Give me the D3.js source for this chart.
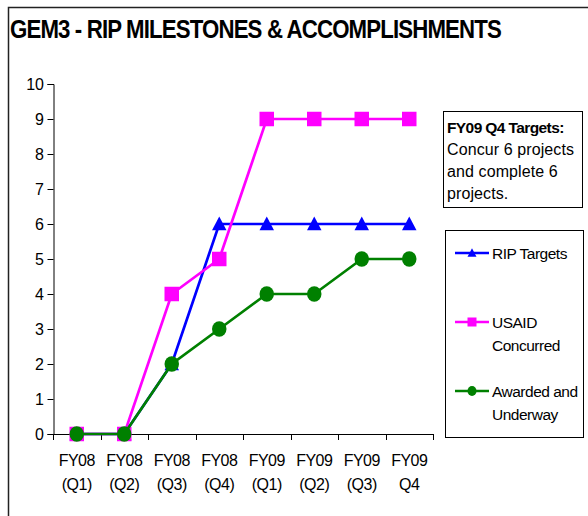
<!DOCTYPE html>
<html lang="en">
<head>
<meta charset="UTF-8">
<title>GEM3 - RIP Milestones & Accomplishments</title>
<script src="https://cdn.jsdelivr.net/npm/d3@7.8.5/dist/d3.min.js"></script>
<style>
  * { margin: 0; padding: 0; box-sizing: border-box; }
  body { background: #fff; width: 588px; height: 516px; overflow: hidden; }
  svg text { font-family: 'Liberation Sans', Arial, sans-serif; fill: #000; }
</style>
</head>
<body>
<svg id="chart" width="588" height="516"></svg>
<script>
// quarters on the x axis (two text lines each)
const quarterTop = ["FY08", "FY08", "FY08", "FY08", "FY09", "FY09", "FY09", "FY09"];
const quarterBottom = ["(Q1)", "(Q2)", "(Q3)", "(Q4)", "(Q1)", "(Q2)", "(Q3)", "Q4"];

// series values
const ripTargets = [0, 0, 2, 6, 6, 6, 6, 6];
const usaidConcurred = [0, 0, 4, 5, 9, 9, 9, 9];
const awardedUnderway = [0, 0, 2, 3, 4, 4, 5, 5];

const yTicks = [0, 1, 2, 3, 4, 5, 6, 7, 8, 9, 10];

const noteLines = ["Concur 6 projects", "and complete 6", "projects."];

const series = [
  { name: ["RIP Targets"], values: ripTargets, color: "#0000ff", shape: "triangle" },
  { name: ["USAID", "Concurred"], values: usaidConcurred, color: "#ff00ff", shape: "square" },
  { name: ["Awarded and", "Underway"], values: awardedUnderway, color: "#008000", shape: "circle" }
];

const svg = d3.select("#chart");

// outer frame (runs off the right and bottom of the picture)
svg.append("path")
  .attr("d", "M8.5,520 V7.5 H600")
  .attr("fill", "none")
  .attr("stroke", "#222")
  .attr("stroke-width", 1.5);

// title - condensed horizontally like the original
svg.append("text")
  .attr("transform", "translate(10,38) scale(0.873,1)")
  .style("font-size", "25.5px")
  .style("font-weight", "bold")
  .style("letter-spacing", "-1px")
  .text("GEM3 - RIP MILESTONES & ACCOMPLISHMENTS");

// plot area
const x = d3.scaleBand().domain(d3.range(quarterTop.length)).range([53, 433]);
const y = d3.scaleLinear().domain([0, 10]).range([434, 84]);

// y axis
const yAxis = svg.append("g")
  .attr("transform", "translate(53.5,0)")
  .call(d3.axisLeft(y).tickValues(yTicks).tickSizeOuter(0).tickSize(6).tickPadding(4));
yAxis.select(".domain").attr("stroke", "#000");
yAxis.selectAll("line").attr("stroke", "#000");
yAxis.selectAll("text")
  .style("font-size", "16px")
  .style("letter-spacing", "-0.3px")
  .style("font-family", "'Liberation Sans', Arial, sans-serif");

// x axis line and ticks at band edges
svg.append("line")
  .attr("x1", 53).attr("x2", 433.5)
  .attr("y1", 434.5).attr("y2", 434.5)
  .attr("stroke", "#000");

const edges = d3.range(quarterTop.length + 1).map(i => i === quarterTop.length ? x.range()[1] : x(i));
svg.selectAll(".xtick")
  .data(edges)
  .join("line")
  .attr("class", "xtick")
  .attr("x1", d => Math.round(d) + 0.5).attr("x2", d => Math.round(d) + 0.5)
  .attr("y1", 434).attr("y2", 440)
  .attr("stroke", "#000");

const xLabels = svg.selectAll(".xlab")
  .data(quarterTop)
  .join("text")
  .attr("class", "xlab")
  .attr("text-anchor", "middle")
  .style("font-size", "16px")
  .style("letter-spacing", "-0.5px");
xLabels.append("tspan")
  .attr("x", (d, i) => x(i) + x.bandwidth() / 2)
  .attr("y", 466)
  .text(d => d);
xLabels.append("tspan")
  .attr("x", (d, i) => x(i) + x.bandwidth() / 2)
  .attr("y", 490)
  .text((d, i) => quarterBottom[i]);

// markers
function drawMarker(g, shape, color, size) {
  if (shape === "square") {
    g.append("rect")
      .attr("x", -size / 2).attr("y", -size / 2)
      .attr("width", size).attr("height", size)
      .attr("fill", color);
  } else if (shape === "triangle") {
    const h = size * 0.95;
    g.append("path")
      .attr("d", `M0,${-h * 0.55} L${size / 2},${h * 0.45} L${-size / 2},${h * 0.45} Z`)
      .attr("fill", color);
  } else {
    g.append("ellipse")
      .attr("rx", size / 2).attr("ry", size / 2 + 0.5)
      .attr("fill", color);
  }
}

const line = d3.line()
  .x((d, i) => x(i) + x.bandwidth() / 2)
  .y(d => y(d));

series.forEach(s => {
  const g = svg.append("g");
  g.append("path")
    .attr("d", line(s.values))
    .attr("fill", "none")
    .attr("stroke", s.color)
    .attr("stroke-width", 2.7);
  s.values.forEach((v, i) => {
    const m = g.append("g")
      .attr("transform", `translate(${x(i) + x.bandwidth() / 2},${y(v)})`);
    drawMarker(m, s.shape, s.color, 14.5);
  });
});

// note box
svg.append("rect")
  .attr("x", 443.5).attr("y", 111.5)
  .attr("width", 139).attr("height", 96)
  .attr("fill", "#fff")
  .attr("stroke", "#000");
svg.append("text")
  .attr("x", 447)
  .attr("y", 133)
  .style("font-size", "15.5px")
  .style("font-weight", "bold")
  .style("letter-spacing", "-0.6px")
  .text("FY09 Q4 Targets:");
svg.selectAll(".note")
  .data(noteLines)
  .join("text")
  .attr("class", "note")
  .attr("x", 447)
  .attr("y", (d, i) => 155 + i * 22)
  .style("font-size", "16px")
  .style("letter-spacing", "0.1px")
  .text(d => d);

// legend
svg.append("rect")
  .attr("x", 445.5).attr("y", 230.5)
  .attr("width", 138).attr("height", 207)
  .attr("fill", "#fff")
  .attr("stroke", "#000");

const legendY = [253, 322, 391];
series.forEach((s, k) => {
  const g = svg.append("g").attr("transform", `translate(0,${legendY[k]})`);
  g.append("line")
    .attr("x1", 455).attr("x2", 489)
    .attr("y1", 0).attr("y2", 0)
    .attr("stroke", s.color)
    .attr("stroke-width", 2.5);
  const m = g.append("g").attr("transform", "translate(472,0)");
  drawMarker(m, s.shape, s.color, 9);
  s.name.forEach((t, j) => {
    g.append("text")
      .attr("x", 492)
      .attr("y", 5.5 + j * 23)
      .style("font-size", "15.5px")
      .style("letter-spacing", "-0.5px")
      .text(t);
  });
});
</script>
</body>
</html>
